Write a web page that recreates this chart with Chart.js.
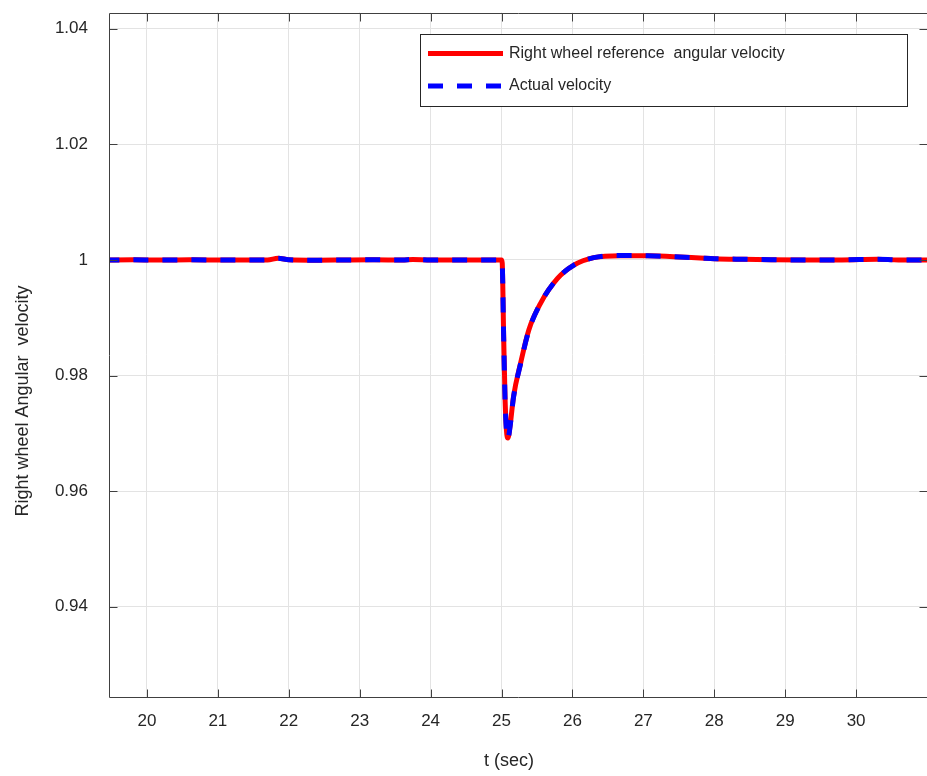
<!DOCTYPE html>
<html>
<head>
<meta charset="utf-8">
<script src="https://cdn.jsdelivr.net/npm/chart.js@4.4.1/dist/chart.umd.min.js"></script>
<style>
  html, body { margin: 0; padding: 0; background: #ffffff; }
  #wrap { width: 927px; height: 776px; position: relative; }
</style>
</head>
<body>
<div id="wrap"><canvas id="c" width="927" height="776"></canvas></div>
<script>
// ---- data ----
const timeSec = [19.4, 19.8, 20.2, 20.6, 21.0, 21.4, 21.7, 21.85, 22.0, 22.4, 22.8, 23.2, 23.6, 23.75, 24.0, 24.4, 24.8, 25.0,
  25.01, 25.03, 25.05, 25.07, 25.09, 25.12, 25.17, 25.27, 25.385, 25.55, 25.79, 26.02, 26.3, 26.68, 27.06, 27.43, 27.8, 28.0,
  28.4, 28.8, 29.3, 29.8, 30.3, 30.6, 31.0];
const refVelocity = [1.0, 1.00003, 1.0, 1.00002, 1.0, 0.99998, 1.0, 1.0003, 1.00005, 0.99997, 1.0, 1.00002, 1.0, 1.0001, 1.0, 1.0, 1.0, 1.0,
  0.9995, 0.987, 0.976, 0.9705, 0.9692, 0.9712, 0.9764, 0.9822, 0.9879, 0.9925, 0.9968, 0.9991, 1.0004, 1.00075, 1.00072, 1.00057, 1.00035, 1.00023,
  1.00012, 1.00004, 1.0, 1.0, 1.00012, 1.0, 1.0];
const actVelocity = [1.0, 1.00002, 1.00001, 1.00002, 1.0, 0.99998, 1.00001, 1.00028, 1.00004, 0.99997, 1.00001, 1.00002, 1.0, 1.0001, 1.0, 1.00001, 1.0, 1.0,
  0.9994, 0.9868, 0.9758, 0.9704, 0.9691, 0.9711, 0.9763, 0.9821, 0.9878, 0.9925, 0.9968, 0.9991, 1.0004, 1.00076, 1.00072, 1.00056, 1.00035, 1.00022,
  1.00012, 1.00004, 1.0, 1.00001, 1.00013, 1.0, 1.0];
const xTicks = [20, 21, 22, 23, 24, 25, 26, 27, 28, 29, 30];
const yTicks = [0.94, 0.96, 0.98, 1.0, 1.02, 1.04];
const yTickLabels = ['0.94', '0.96', '0.98', '1', '1.02', '1.04'];
const seriesNames = ['Right wheel reference  angular velocity', 'Actual velocity'];
const xTitle = 't (sec)';
const yTitle = 'Right wheel Angular  velocity';

const FONT = '"Liberation Sans", Arial, Helvetica, sans-serif';
const AXIS_COLOR = '#404040';
const TEXT_COLOR = '#262626';

const toPts = (ys) => timeSec.map((t, i) => ({ x: t, y: ys[i] }));

const boxAndTicks = {
  id: 'boxAndTicks',
  afterDraw(chart) {
    const ctx = chart.ctx;
    const a = chart.chartArea;
    const xs = chart.scales.x, ys = chart.scales.y;
    ctx.save();
    ctx.strokeStyle = AXIS_COLOR;
    ctx.lineWidth = 1;
    const L = Math.round(a.left) + 0.5, R = Math.round(a.right) + 0.5;
    const T = Math.round(a.top) + 0.5, B = Math.round(a.bottom) + 0.5;
    ctx.beginPath();
    ctx.moveTo(L, T); ctx.lineTo(R, T); ctx.lineTo(R, B); ctx.lineTo(L, B); ctx.closePath();
    ctx.stroke();
    const tl = 8;
    ctx.beginPath();
    xTicks.forEach(v => {
      const px = Math.round(xs.getPixelForValue(v)) + 0.5;
      ctx.moveTo(px, B); ctx.lineTo(px, B - tl);
      ctx.moveTo(px, T); ctx.lineTo(px, T + tl);
    });
    yTicks.forEach(v => {
      const py = Math.round(ys.getPixelForValue(v)) + 0.5;
      ctx.moveTo(L, py); ctx.lineTo(L + tl, py);
      ctx.moveTo(R, py); ctx.lineTo(R - tl, py);
    });
    ctx.stroke();

    // axis titles
    ctx.fillStyle = TEXT_COLOR;
    ctx.font = '18px ' + FONT;
    ctx.textAlign = 'center';
    ctx.textBaseline = 'middle';
    ctx.fillText(xTitle, 509, 761);
    ctx.save();
    ctx.translate(23, 401);
    ctx.rotate(-Math.PI / 2);
    ctx.fillText(yTitle, 0, 0);
    ctx.restore();

    // legend
    const lx = 420.5, ly = 34.5, lw = 487, lh = 72;
    ctx.fillStyle = '#ffffff';
    ctx.fillRect(lx, ly, lw, lh);
    ctx.strokeStyle = '#262626';
    ctx.lineWidth = 1;
    ctx.strokeRect(lx, ly, lw, lh);
    const ds = chart.data.datasets;
    const rows = [53.5, 86];
    ds.forEach((d, i) => {
      ctx.save();
      ctx.strokeStyle = d.borderColor;
      ctx.lineWidth = d.borderWidth;
      ctx.lineCap = 'butt';
      ctx.setLineDash(d.borderDash || []);
      ctx.beginPath();
      ctx.moveTo(428, rows[i]);
      ctx.lineTo(503, rows[i]);
      ctx.stroke();
      ctx.restore();
      ctx.fillStyle = TEXT_COLOR;
      ctx.font = '16px ' + FONT;
      ctx.textAlign = 'left';
      ctx.textBaseline = 'middle';
      ctx.fillText(d.label, 509, rows[i]);
    });
    ctx.restore();
  }
};

new Chart(document.getElementById('c'), {
  type: 'line',
  data: {
    datasets: [
      { label: seriesNames[0], data: toPts(refVelocity), borderColor: '#ff0000', borderWidth: 5,
        pointRadius: 0, cubicInterpolationMode: 'monotone', order: 1, fill: false },
      { label: seriesNames[1], data: toPts(actVelocity), borderColor: '#0000ff', borderWidth: 5,
        borderDash: [15, 14], pointRadius: 0, cubicInterpolationMode: 'monotone', order: 0, fill: false }
    ]
  },
  options: {
    responsive: false,
    animation: false,
    parsing: true,
    layout: { autoPadding: false, padding: { top: 12.5, right: 0, left: 0, bottom: 0 } },
    plugins: { legend: { display: false }, tooltip: { enabled: false } },
    scales: {
      x: {
        type: 'linear', min: 19.465, max: 31.0,
        afterBuildTicks: (s) => { s.ticks = xTicks.map(v => ({ value: v })); },
        afterFit: (s) => { s.height = 79; s.paddingLeft = 0; s.paddingRight = 0; },
        grid: { color: '#e3e3e3', lineWidth: 1, drawTicks: false },
        border: { display: false },
        ticks: { padding: 14, color: TEXT_COLOR, font: { size: 17, family: FONT }, maxRotation: 0,
          callback: (v) => String(v) }
      },
      y: {
        type: 'linear', min: 0.92438, max: 1.04282,
        afterBuildTicks: (s) => { s.ticks = yTicks.map(v => ({ value: v })); },
        afterFit: (s) => { s.width = 109; s.paddingTop = 0; s.paddingBottom = 0; },
        grid: { color: '#e3e3e3', lineWidth: 1, drawTicks: false },
        border: { display: false },
        ticks: { padding: 21, color: TEXT_COLOR, font: { size: 17, family: FONT },
          callback: (v) => { const i = yTicks.findIndex(t => Math.abs(t - v) < 1e-9); return i >= 0 ? yTickLabels[i] : ''; } }
      }
    }
  },
  plugins: [boxAndTicks]
});
</script>
</body>
</html>
